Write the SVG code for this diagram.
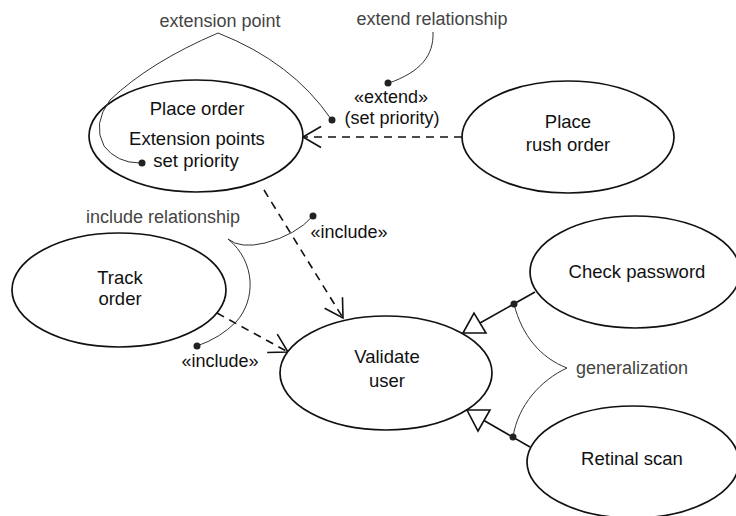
<svg xmlns="http://www.w3.org/2000/svg" width="736" height="516" viewBox="0 0 736 516">
<style>
.uc{fill:#fff;stroke:#111;stroke-width:1.7}
.lbl{font-family:"Liberation Sans",Arial,sans-serif;font-size:18.5px;fill:#111;text-anchor:middle}
.st{font-family:"Liberation Sans",Arial,sans-serif;font-size:18px;fill:#111;text-anchor:middle}
.note{font-family:"Liberation Sans",Arial,sans-serif;font-size:18px;fill:#444;text-anchor:middle}
.ann{fill:none;stroke:#333;stroke-width:1}
.dash{fill:none;stroke:#111;stroke-width:1.6;stroke-dasharray:8 6}
.solid{fill:none;stroke:#111;stroke-width:1.6}
.tri{fill:#fff;stroke:#111;stroke-width:1.6}
.dot{fill:#222}
</style>
<defs>
<marker id="open" markerUnits="userSpaceOnUse" markerWidth="30" markerHeight="30" refX="0" refY="0" viewBox="-22 -15 24 30" orient="auto" overflow="visible">
<path d="M-18,-10.5 L0,0 L-18,10.5" fill="none" stroke="#111" stroke-width="1.6"/>
</marker>
</defs>
<rect width="736" height="516" fill="#fff"/>

<g id="connectors">
<path class="dash" d="M462,137 L303,137" marker-end="url(#open)"/>
<path class="dash" d="M264,190 L343,318" marker-end="url(#open)"/>
<path class="dash" d="M217,313 L288,352" marker-end="url(#open)"/>
<path class="solid" d="M535,292 L480,323"/>
<polygon class="tri" points="463,333 474,313 486,333"/>
<path class="solid" d="M530,447 L484,420.5"/>
<polygon class="tri" points="467,410 490,410 478,431"/>
</g>

<g id="place-order">
<ellipse class="uc" cx="196" cy="136" rx="107" ry="56"/>
<text class="lbl" x="197" y="115">Place order</text>
<text class="lbl" x="197" y="145">Extension points</text>
<text class="lbl" x="196" y="167">set priority</text>
</g>
<g id="place-rush-order">
<ellipse class="uc" cx="568" cy="137" rx="106" ry="56"/>
<text class="lbl" x="568" y="128">Place</text>
<text class="lbl" x="568" y="151">rush order</text>
</g>
<g id="track-order">
<ellipse class="uc" cx="119" cy="290" rx="107" ry="57"/>
<text class="lbl" x="120" y="284">Track</text>
<text class="lbl" x="120" y="305">order</text>
</g>
<g id="validate-user">
<ellipse class="uc" cx="386" cy="373" rx="106" ry="57"/>
<text class="lbl" x="387" y="363">Validate</text>
<text class="lbl" x="387" y="387">user</text>
</g>
<g id="check-password">
<ellipse class="uc" cx="635" cy="272" rx="105" ry="56"/>
<text class="lbl" x="637" y="278">Check password</text>
</g>
<g id="retinal-scan">
<ellipse class="uc" cx="633" cy="462" rx="106" ry="56"/>
<text class="lbl" x="632" y="465">Retinal scan</text>
</g>

<g id="labels">
<text class="st" x="391" y="103">«extend»</text>
<text class="st" x="392" y="124">(set priority)</text>
<text class="st" x="349" y="238">«include»</text>
<text class="st" x="220" y="367">«include»</text>
</g>

<g id="annotations">
<text class="note" x="220" y="27">extension point</text>
<path class="ann" d="M218,33 Q292,62 331,119"/>
<path class="ann" d="M218,33 Q150,62 110,100 Q92,124 104,146 Q117,163 140,163"/>
<circle class="dot" cx="332" cy="120" r="3.5"/>
<circle class="dot" cx="142" cy="163" r="3.5"/>

<text class="note" x="432" y="25">extend relationship</text>
<path class="ann" d="M433,32 C434,56 420,72 389,83"/>
<circle class="dot" cx="388" cy="83" r="3.5"/>

<text class="note" x="163" y="223">include relationship</text>
<path class="ann" d="M228,239 Q240,249 265,243 Q296,235 313,216"/>
<path class="ann" d="M228,239 C256,262 256,300 236,322 Q220,338 197,346"/>
<circle class="dot" cx="313" cy="216" r="3.5"/>
<circle class="dot" cx="197" cy="346" r="3.5"/>

<text class="note" x="576" y="374" style="text-anchor:start">generalization</text>
<path class="ann" d="M514,304 C522,336 541,358 567,368"/>
<path class="ann" d="M567,368 C541,380 518,405 513,437"/>
<circle class="dot" cx="514" cy="304" r="3.5"/>
<circle class="dot" cx="513" cy="437" r="3.5"/>
</g>
</svg>
